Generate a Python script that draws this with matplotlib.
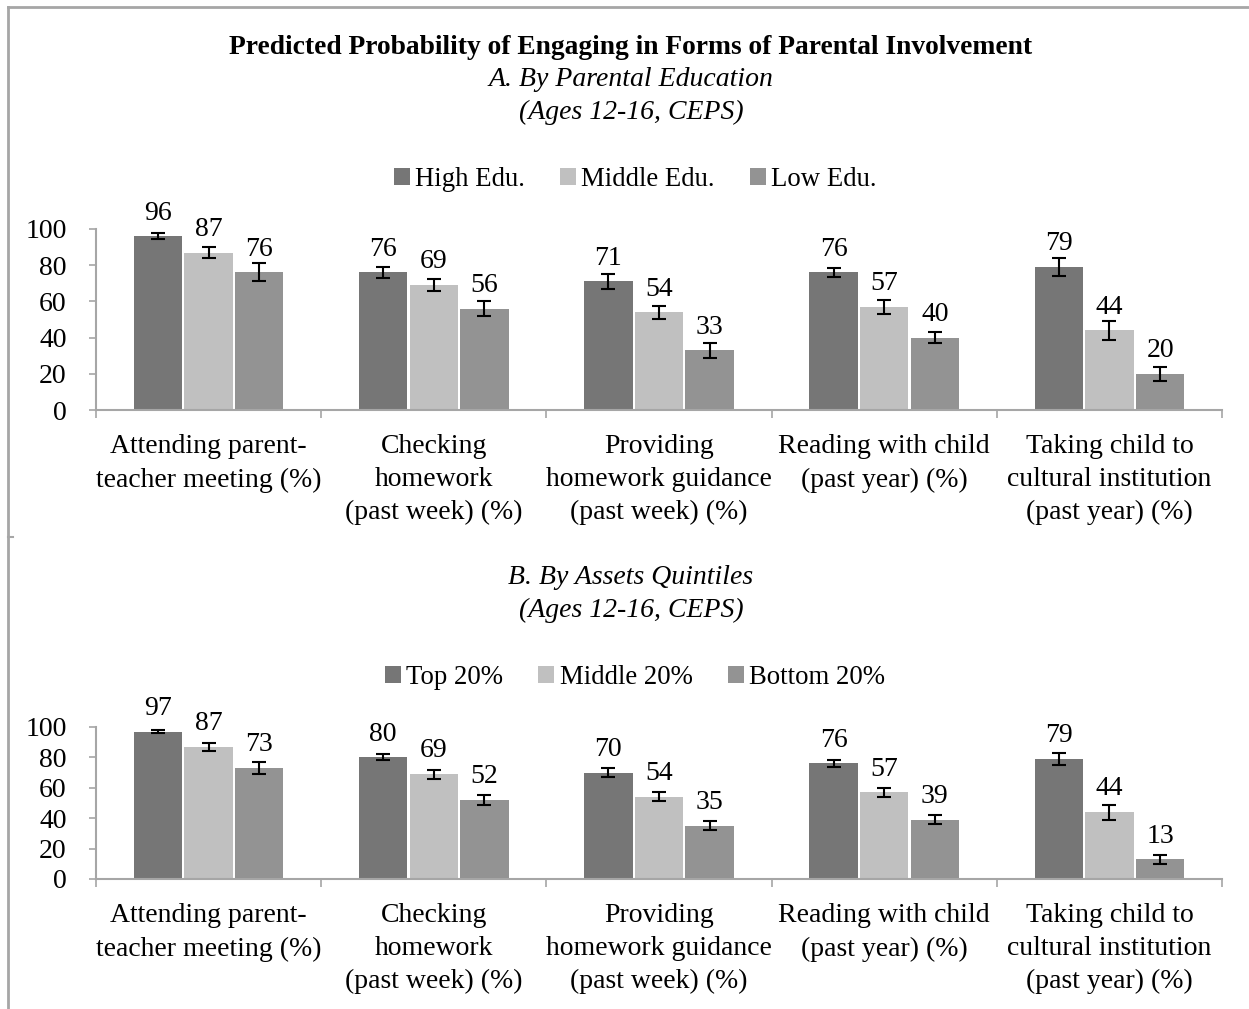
import numpy as np
import matplotlib
matplotlib.use("Agg")
import matplotlib.pyplot as plt
from matplotlib.lines import Line2D

plt.rcParams['font.family'] = ['Liberation Serif', 'DejaVu Serif']

categories = [
    "Attending parent-\nteacher meeting (%)",
    "Checking\nhomework\n(past week) (%)",
    "Providing\nhomework guidance\n(past week) (%)",
    "Reading with child\n(past year) (%)",
    "Taking child to\ncultural institution\n(past year) (%)",
]

# Panel A: by parental education
edu_labels = ["High Edu.", "Middle Edu.", "Low Edu."]
edu_high = [96, 76, 71, 76, 79]
edu_mid = [87, 69, 54, 57, 44]
edu_low = [76, 56, 33, 40, 20]
edu_high_err = [1.7, 3.0, 4.0, 2.5, 5.0]
edu_mid_err = [3.0, 3.4, 3.5, 4.0, 5.3]
edu_low_err = [5.0, 4.0, 4.0, 3.0, 4.0]

# Panel B: by assets quintiles
ast_labels = ["Top 20%", "Middle 20%", "Bottom 20%"]
ast_top = [97, 80, 70, 76, 79]
ast_mid = [87, 69, 54, 57, 44]
ast_bot = [73, 52, 35, 39, 13]
ast_top_err = [1.0, 2.0, 3.0, 2.5, 4.0]
ast_mid_err = [2.5, 3.0, 3.0, 3.0, 5.0]
ast_bot_err = [4.0, 3.5, 3.0, 3.0, 3.0]

colors = ["#767676", "#c0c0c0", "#939393"]
axis_gray = "#a6a6a6"
FS = 20

W, H = 1249, 1009
fig = plt.figure(figsize=(W / 100, H / 100), dpi=100)


def px_ax(x0, x1, ytop, ybot):
    return [x0 / W, 1 - ybot / H, (x1 - x0) / W, (ybot - ytop) / H]


def draw_panel(ax, series, errs, labels, legend_y):
    x = np.arange(len(categories))
    width = 0.215
    offsets = [-0.225, 0, 0.225]
    handles = []
    for vals, err, off, col, lab in zip(series, errs, offsets, colors, labels):
        b = ax.bar(x + off, vals, width, color=col, label=lab, zorder=2)
        handles.append(b)
        ax.errorbar(x + off, vals, yerr=err, fmt='none', ecolor='black',
                    elinewidth=1.5, capsize=4.7, capthick=1.5, zorder=3)
        for xi, v in zip(x + off, vals):
            ax.annotate(f"{v}", (xi, v), xytext=(0, 12), textcoords='offset points',
                        ha='center', va='baseline', fontsize=FS)
    ax.set_xlim(-0.5, len(categories) - 0.5)
    ax.set_ylim(0, 100)
    ax.set_yticks([0, 20, 40, 60, 80, 100])
    ax.tick_params(axis='y', labelsize=FS, length=5, width=1.2, color=axis_gray, pad=16)
    ax.set_xticks(np.arange(-0.5, len(categories), 1.0))
    ax.set_xticklabels([])
    ax.tick_params(axis='x', which='major', length=6, width=1.2, color=axis_gray)
    ax.set_xticks(x, minor=True)
    ax.set_xticklabels(categories, minor=True, fontsize=FS, linespacing=1.42)
    ax.tick_params(axis='x', which='minor', length=0, pad=17.5)
    for s in ['top', 'right']:
        ax.spines[s].set_visible(False)
    for s in ['left', 'bottom']:
        ax.spines[s].set_color(axis_gray)
        ax.spines[s].set_linewidth(1.5)
    fig.legend(handles, labels, loc='center', bbox_to_anchor=(635 / W, 1 - legend_y / H),
               ncol=3, frameon=False, fontsize=19.3, handlelength=0.6, handleheight=0.6,
               handletextpad=0.2, columnspacing=1.3)


ax_a = fig.add_axes(px_ax(96, 1222, 229, 410))
draw_panel(ax_a, [edu_high, edu_mid, edu_low],
           [edu_high_err, edu_mid_err, edu_low_err], edu_labels, 179)

ax_b = fig.add_axes(px_ax(96, 1222, 727, 879))
draw_panel(ax_b, [ast_top, ast_mid, ast_bot],
           [ast_top_err, ast_mid_err, ast_bot_err], ast_labels, 677)

cx = 631 / W
fig.text(cx, 1 - 47 / H, "Predicted Probability of Engaging in Forms of Parental Involvement",
         ha='center', va='center', fontsize=19.8, fontweight='bold')
fig.text(cx, 1 - 80 / H, "A. By Parental Education", ha='center', va='center',
         fontsize=20, style='italic')
fig.text(cx, 1 - 112 / H, "(Ages 12-16, CEPS)", ha='center', va='center',
         fontsize=20, style='italic')
fig.text(cx, 1 - 578 / H, "B. By Assets Quintiles", ha='center', va='center',
         fontsize=20, style='italic')
fig.text(cx, 1 - 610 / H, "(Ages 12-16, CEPS)", ha='center', va='center',
         fontsize=20, style='italic')

# outer frame (top and left edge) plus small joint tick
fig.add_artist(Line2D([8 / W, 1], [1 - 7 / H, 1 - 7 / H], color=axis_gray, lw=2))
fig.add_artist(Line2D([8 / W, 8 / W], [0, 1 - 7 / H], color=axis_gray, lw=2))
fig.add_artist(Line2D([8 / W, 13 / W], [1 - 537 / H, 1 - 537 / H], color=axis_gray, lw=1.5))

fig.savefig("out.png", dpi=100)
